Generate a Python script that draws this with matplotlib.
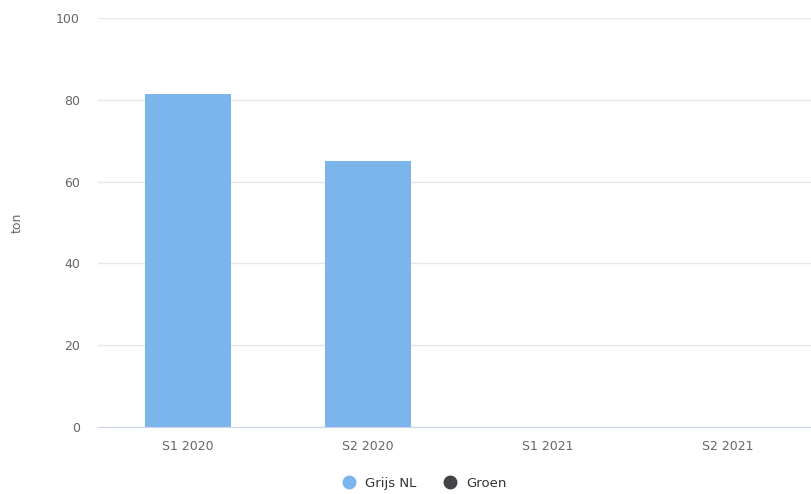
import matplotlib
matplotlib.use("Agg")
import matplotlib.pyplot as plt
from matplotlib.lines import Line2D
import numpy as np

categories = ["S1 2020", "S2 2020", "S1 2021", "S2 2021"]
grijs_nl = [81.5, 65.0, 0, 0]
groen = [0, 0, 0, 0]
y_ticks = [0, 20, 40, 60, 80, 100]

plt.rcParams['font.family'] = ['DejaVu Sans']
fig = plt.figure(figsize=(8.11, 4.94), dpi=100)
ax = fig.add_axes([98/811, 1-427/494, 720/811, (427-18)/494])

x = np.arange(len(categories))
ax.bar(x, grijs_nl, width=0.478, color="#7cb5ec", zorder=3)
ax.bar(x, groen, width=0.478, color="#434348", zorder=3)

ax.set_xlim(-0.5, len(categories) - 0.5)
ax.set_ylim(0, 100)
ax.set_yticks(y_ticks)
ax.set_xticks(x)
ax.set_xticklabels(categories)
ax.grid(axis="y", color="#e6e6e6", linewidth=1, zorder=0)
ax.tick_params(axis="y", length=0, pad=13, labelsize=9, labelcolor="#666666")
ax.tick_params(axis="x", length=0, pad=9, labelsize=9, labelcolor="#666666")
for s in ["top", "right", "left"]:
    ax.spines[s].set_visible(False)
ax.spines["bottom"].set_color("#ccd6eb")
ax.spines["bottom"].set_zorder(4)
ax.set_ylabel("ton", color="#666666", fontsize=9)
ax.yaxis.set_label_coords((24 - 98) / 720, 0.5)

handles = [
    Line2D([], [], marker="o", linestyle="", markersize=9, color="#7cb5ec", label="Grijs NL"),
    Line2D([], [], marker="o", linestyle="", markersize=9, color="#434348", label="Groen"),
]
fig.legend(handles=handles, loc="center", bbox_to_anchor=(421/811, 1-483/494), ncol=2,
           frameon=False, fontsize=9.5, handletextpad=0.2, columnspacing=1.6,
           labelcolor="#333333")

fig.savefig("out.png", dpi=100)
